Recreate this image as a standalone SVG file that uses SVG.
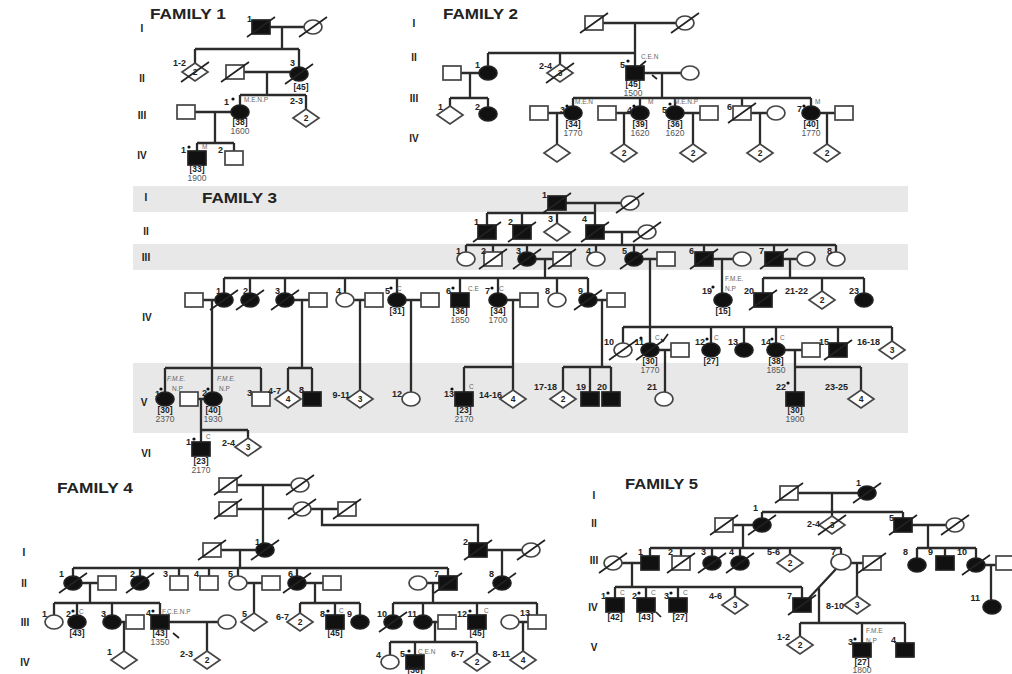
<svg xmlns="http://www.w3.org/2000/svg" width="1012" height="674" viewBox="0 0 1012 674">
<style>
.o{fill:#fff;stroke:#444;stroke-width:1.7}
.f{fill:#111;stroke:#222;stroke-width:1.7}
.ln{fill:none;stroke:#2b2b2b;stroke-width:2.3}
.sl{fill:none;stroke:#222;stroke-width:1.7}
.pd{fill:#111}
text{font-family:"Liberation Sans",Arial,sans-serif;fill:#222}
.t{font-size:9px;font-weight:bold}
.b{font-size:8.5px;font-weight:bold;text-anchor:middle}
.y{font-size:8.5px;fill:#555;text-anchor:middle}
.a{font-size:6.5px;fill:#666}
.n{font-size:8.5px;font-weight:bold;text-anchor:middle}
.r{font-size:10px;font-weight:bold;text-anchor:middle}
.h{font-size:14px;font-weight:bold}
.e{text-anchor:end}
.band{fill:#e8e8e8}
</style>
<defs>
<rect id="sq" x="-9" y="-7" width="18" height="14"/>
<ellipse id="ci" rx="9" ry="7"/>
<path id="di" d="M0-9L13 0L0 9L-13 0Z"/>
<path id="sl" d="M-14 10L14-10"/>
<circle id="pd" r="1.6"/>
</defs>
<rect width="1012" height="674" fill="#fff"/>
<g id="bands">
<rect class="band" x="133" y="186" width="775" height="26"/>
<rect class="band" x="133" y="244" width="775" height="26"/>
<rect class="band" x="133" y="363" width="775" height="70"/>
</g>
<g id="titles">
<text class="h" x="150" y="19" textLength="76" lengthAdjust="spacingAndGlyphs">FAMILY 1</text>
<text class="h" x="443" y="19" textLength="75" lengthAdjust="spacingAndGlyphs">FAMILY 2</text>
<text class="h" x="202" y="203" textLength="75" lengthAdjust="spacingAndGlyphs">FAMILY 3</text>
<text class="h" x="57" y="493" textLength="76" lengthAdjust="spacingAndGlyphs">FAMILY 4</text>
<text class="h" x="625" y="489" textLength="73" lengthAdjust="spacingAndGlyphs">FAMILY 5</text>
</g>
<g id="generations">
<text class="r" x="142" y="32">I</text><text class="r" x="142" y="82">II</text><text class="r" x="142" y="119">III</text><text class="r" x="142" y="159">IV</text>
<text class="r" x="414" y="27">I</text><text class="r" x="414" y="61">II</text><text class="r" x="414" y="102">III</text><text class="r" x="414" y="142">IV</text>
<text class="r" x="146" y="201">I</text><text class="r" x="146" y="235">II</text><text class="r" x="146" y="261">III</text><text class="r" x="147" y="321">IV</text><text class="r" x="144" y="406">V</text><text class="r" x="146" y="457">VI</text>
<text class="r" x="24" y="556">I</text><text class="r" x="24" y="587">II</text><text class="r" x="25" y="626">III</text><text class="r" x="25" y="666">IV</text>
<text class="r" x="594" y="499">I</text><text class="r" x="594" y="527">II</text><text class="r" x="594" y="564">III</text><text class="r" x="593" y="611">IV</text><text class="r" x="594" y="651">V</text>
</g>
<g id="connectors" class="ln">
<path d="M270 27H304M282 27V49M195 49H299M195 49V63M299 49V67M244 72H290M267 72V95M240 95H306M240 95V105M306 95V109M195 112H231M215 112V143M197 143H234M197 143V151M234 143V151"/>
<path d="M603 23H676M635 23V53M488 53H635M488 53V66M560 53V64M635 53V66M461 73H479M470 73V98M450 98H488M450 98V106M488 98V107M644 73H681M662 73V98M573 98H811M573 98V106M640 98V106M675 98V106M742 98V106M811 98V106M548 113H564M557 113V144M616 113H631M624 113V144M684 113H700M693 113V144M751 113H767M760 113V144M820 113H835M827 113V144"/>
<path d="M566 203H621M595 203V213M487 213H595M487 213V225M522 213V225M557 213V223M595 213V225M604 232H638M622 232V245M466 245H836M466 245V252M493 245V252M527 245V252M596 245V252M634 245V252M704 245V252M774 245V252M836 245V252"/>
<path d="M536 259H553M545 259V278M224 278H588M224 278V293M250 278V293M285 278V293M345 278V293M397 278V293M460 278V293M498 278V293M557 278V293M588 278V293M643 259H657M650 259V343M623 327H892M623 327V343M711 327V343M744 327V343M776 327V343M838 327V343M892 327V341M713 259H733M722 259V293M783 259H797M790 259V278M763 278H864M763 278V293M822 278V291M864 278V293"/>
<path d="M203 300H215M212 300V392M165 368H261M165 368V392M261 368V392M294 300H309M302 300V368M288 368H312M288 368V390M312 368V392M354 300H365M360 300V390M406 300H421M411 300V392M507 300H520M513 300V390M464 367H513M464 367V392M597 300H607M602 300V367M563 367H611M563 367V390M590 367V392M611 367V392M659 350H671M665 350V392M785 350H802M795 350V392M795 367H861M861 367V390M198 399H204M201 399V430H248M201 430V442M248 430V438"/>
<path d="M237 485H291M263 485V543M237 509H293M311 509H338M322 509V525H478V543M221 550H256M240 550V568M73 568H448M73 568V576M140 568V576M179 568V576M209 568V576M238 568V576M297 568V576M448 568V576M487 550H522M502 550V576M82 583H98M90 583V603M54 603H160M54 603V615M77 603V615M112 603V615M160 603V615M247 583H262M254 583V613M306 583H323M315 583V603M300 603H360M300 603V613M335 603V615M360 603V615M427 583H439M433 583V603M393 603H537M393 603V615M423 603V615M477 603V615M537 603V615M121 622H126M124 622V651M169 622H218M207 622V651M432 622H438M435 622V642M390 642H477M390 642V655M415 642V655M477 642V653M519 622H528M523 622V651"/>
<path d="M798 493H858M832 493V512M762 512H903M762 512V518M832 512V516M903 512V518M733 525H753M743 525V548M912 525H946M928 525V548M650 548H841M650 548V556M681 548V556M712 548V556M740 548V556M790 548V554M841 548V554M917 548H976M917 548V558M945 548V556M976 548V558M622 563H641M632 563V587M615 587H802M615 587V598M646 587V598M678 587V598M735 587V596M802 587V598M851 563H863M857 563V596M836 569L809 598M819 587V623M800 623H905M800 623V636M862 623V643M905 623V643M985 565H996M991 565V600"/>
</g>
<g id="family1">
<g id="f1-I-1"><use href="#sq" x="261" y="27" class="f"/><use href="#sl" x="261" y="27" class="sl"/><text class="t e" x="252" y="22">1</text></g>
<g id="f1-I-2"><use href="#ci" x="313" y="27" class="o"/><use href="#sl" x="313" y="27" class="sl"/></g>
<g id="f1-II-1-2"><use href="#di" x="195" y="72" class="o"/><use href="#sl" x="195" y="72" class="sl"/><text class="n" x="195" y="75">2</text><text class="t e" x="186" y="66">1-2</text></g>
<g id="f1-II-sp"><use href="#sq" x="235" y="72" class="o"/><use href="#sl" x="235" y="72" class="sl"/></g>
<g id="f1-II-3"><use href="#ci" x="299" y="74" class="f"/><use href="#sl" x="299" y="74" class="sl"/><text class="t" x="290" y="66">3</text><text class="b" x="301" y="90">[45]</text></g>
<g id="f1-III-sp"><use href="#sq" x="186" y="112" class="o"/></g>
<g id="f1-III-1"><use href="#ci" x="240" y="112" class="f"/><text class="t e" x="229" y="105">1</text><use href="#pd" x="233" y="99" class="pd"/><text class="a" x="244" y="102">M.E.N.P</text><text class="b" x="240" y="125">[38]</text><text class="y" x="240" y="134">1600</text></g>
<g id="f1-III-2-3"><use href="#di" x="306" y="118" class="o"/><text class="n" x="306" y="121">2</text><text class="t e" x="303" y="104">2-3</text></g>
<g id="f1-IV-1"><use href="#sq" x="197" y="158" class="f"/><text class="t e" x="186" y="153">1</text><use href="#pd" x="189" y="147" class="pd"/><text class="a" x="202" y="149">M</text><text class="b" x="197" y="172">[33]</text><text class="y" x="197" y="181">1900</text></g>
<g id="f1-IV-2"><use href="#sq" x="234" y="158" class="o"/><text class="t e" x="223" y="153">2</text></g>
</g>
<g id="family2">
<g id="f2-I-1"><use href="#sq" x="594" y="23" class="o"/><use href="#sl" x="594" y="23" class="sl"/></g>
<g id="f2-I-2"><use href="#ci" x="685" y="23" class="o"/><use href="#sl" x="685" y="23" class="sl"/></g>
<g id="f2-II-sp1"><use href="#sq" x="452" y="73" class="o"/></g>
<g id="f2-II-1"><use href="#ci" x="488" y="73" class="f"/><text class="t e" x="480" y="68">1</text></g>
<g id="f2-II-2-4"><use href="#di" x="560" y="73" class="o"/><use href="#sl" x="560" y="73" class="sl"/><text class="n" x="560" y="76">3</text><text class="t e" x="552" y="69">2-4</text></g>
<g id="f2-II-5"><use href="#sq" x="635" y="73" class="f"/><text class="t e" x="625" y="68">5</text><use href="#pd" x="628" y="61" class="pd"/><path class="sl" d="M640 66L646 61M652 75L657 79" stroke-width="1.2"/><text class="a" x="641" y="59">C.E.N</text><text class="b" x="633" y="87">[45]</text><text class="y" x="633" y="96">1500</text></g>
<g id="f2-II-sp5"><use href="#ci" x="690" y="73" class="o"/></g>
<g id="f2-III-1"><use href="#di" x="450" y="115" class="o"/><text class="t e" x="443" y="110">1</text></g>
<g id="f2-III-2"><use href="#ci" x="488" y="114" class="f"/><text class="t e" x="480" y="110">2</text></g>
<g id="f2-III-sp3"><use href="#sq" x="539" y="113" class="o"/></g>
<g id="f2-III-3"><use href="#ci" x="573" y="113" class="f"/><text class="t e" x="565" y="113">3</text><use href="#pd" x="567" y="106" class="pd"/><text class="a" x="575" y="104">M.E.N</text><text class="b" x="573" y="127">[34]</text><text class="y" x="573" y="136">1770</text></g>
<g id="f2-III-sp4"><use href="#sq" x="607" y="113" class="o"/></g>
<g id="f2-III-4"><use href="#ci" x="640" y="113" class="f"/><text class="t e" x="632" y="113">4</text><use href="#pd" x="634" y="106" class="pd"/><text class="a" x="648" y="104">M</text><text class="b" x="640" y="127">[39]</text><text class="y" x="640" y="136">1620</text></g>
<g id="f2-III-5"><use href="#ci" x="675" y="113" class="f"/><text class="t e" x="667" y="113">5</text><use href="#pd" x="670" y="104" class="pd"/><text class="a" x="674" y="104">M.E.N.P</text><text class="b" x="675" y="127">[36]</text><text class="y" x="675" y="136">1620</text></g>
<g id="f2-III-sp5"><use href="#sq" x="709" y="113" class="o"/></g>
<g id="f2-III-6"><use href="#sq" x="742" y="113" class="o"/><use href="#sl" x="742" y="113" class="sl"/><text class="t e" x="732" y="110">6</text></g>
<g id="f2-III-sp6"><use href="#ci" x="776" y="113" class="o"/></g>
<g id="f2-III-7"><use href="#ci" x="811" y="113" class="f"/><text class="t e" x="802" y="112">7</text><use href="#pd" x="804" y="106" class="pd"/><text class="a" x="815" y="104">M</text><text class="b" x="811" y="127">[40]</text><text class="y" x="811" y="136">1770</text></g>
<g id="f2-III-sp7"><use href="#sq" x="844" y="113" class="o"/></g>
<g id="f2-IV-1"><use href="#di" x="557" y="153" class="o"/></g>
<g id="f2-IV-2"><use href="#di" x="624" y="153" class="o"/><text class="n" x="624" y="156">2</text></g>
<g id="f2-IV-3"><use href="#di" x="693" y="153" class="o"/><text class="n" x="693" y="156">2</text></g>
<g id="f2-IV-4"><use href="#di" x="760" y="153" class="o"/><text class="n" x="760" y="156">2</text></g>
<g id="f2-IV-5"><use href="#di" x="827" y="153" class="o"/><text class="n" x="827" y="156">2</text></g>
</g>
<g id="family3">
<g id="f3-I-1"><use href="#sq" x="557" y="203" class="f"/><use href="#sl" x="557" y="203" class="sl"/><text class="t e" x="547" y="198">1</text></g>
<g id="f3-I-2"><use href="#ci" x="630" y="203" class="o"/><use href="#sl" x="630" y="203" class="sl"/></g>
<g id="f3-II-1"><use href="#sq" x="487" y="232" class="f"/><use href="#sl" x="487" y="232" class="sl"/><text class="t e" x="479" y="225">1</text></g>
<g id="f3-II-2"><use href="#sq" x="522" y="232" class="f"/><use href="#sl" x="522" y="232" class="sl"/><text class="t e" x="513" y="225">2</text></g>
<g id="f3-II-3"><use href="#di" x="557" y="232" class="o"/><text class="t e" x="553" y="222">3</text></g>
<g id="f3-II-4"><use href="#sq" x="595" y="232" class="f"/><use href="#sl" x="595" y="232" class="sl"/><text class="t e" x="587" y="222">4</text></g>
<g id="f3-II-sp4"><use href="#ci" x="647" y="232" class="o"/><use href="#sl" x="647" y="232" class="sl"/></g>
<g id="f3-III-1"><use href="#ci" x="466" y="259" class="o"/><text class="t e" x="461" y="254">1</text></g>
<g id="f3-III-2"><use href="#sq" x="493" y="259" class="o"/><use href="#sl" x="493" y="259" class="sl"/><text class="t e" x="486" y="254">2</text></g>
<g id="f3-III-3"><use href="#ci" x="527" y="259" class="f"/><use href="#sl" x="527" y="259" class="sl"/><text class="t e" x="521" y="254">3</text></g>
<g id="f3-III-sp3"><use href="#sq" x="562" y="259" class="o"/><use href="#sl" x="562" y="259" class="sl"/></g>
<g id="f3-III-4"><use href="#ci" x="596" y="259" class="o"/><text class="t e" x="591" y="254">4</text></g>
<g id="f3-III-5"><use href="#ci" x="634" y="259" class="f"/><use href="#sl" x="634" y="259" class="sl"/><text class="t e" x="627" y="254">5</text></g>
<g id="f3-III-sp5"><use href="#sq" x="666" y="259" class="o"/></g>
<g id="f3-III-6"><use href="#sq" x="704" y="259" class="f"/><use href="#sl" x="704" y="259" class="sl"/><text class="t e" x="694" y="254">6</text></g>
<g id="f3-III-sp6"><use href="#ci" x="742" y="259" class="o"/></g>
<g id="f3-III-7"><use href="#sq" x="774" y="259" class="f"/><use href="#sl" x="774" y="259" class="sl"/><text class="t e" x="764" y="254">7</text></g>
<g id="f3-III-sp7"><use href="#ci" x="806" y="259" class="o"/></g>
<g id="f3-III-8"><use href="#ci" x="836" y="259" class="o"/><text class="t e" x="832" y="254">8</text></g>
<g id="f3-IV-sp1"><use href="#sq" x="194" y="300" class="o"/></g>
<g id="f3-IV-1"><use href="#ci" x="224" y="300" class="f"/><use href="#sl" x="224" y="300" class="sl"/><text class="t e" x="221" y="294">1</text></g>
<g id="f3-IV-2"><use href="#ci" x="250" y="300" class="f"/><use href="#sl" x="250" y="300" class="sl"/><text class="t e" x="248" y="294">2</text></g>
<g id="f3-IV-3"><use href="#ci" x="285" y="300" class="f"/><use href="#sl" x="285" y="300" class="sl"/><text class="t e" x="280" y="294">3</text></g>
<g id="f3-IV-sp3"><use href="#sq" x="318" y="300" class="o"/></g>
<g id="f3-IV-4"><use href="#ci" x="345" y="300" class="o"/><text class="t e" x="341" y="294">4</text></g>
<g id="f3-IV-sp4"><use href="#sq" x="374" y="300" class="o"/></g>
<g id="f3-IV-5"><use href="#ci" x="397" y="300" class="f"/><text class="t e" x="390" y="294">5</text><use href="#pd" x="391" y="288" class="pd"/><text class="a" x="397" y="291">C</text><text class="b" x="397" y="314">[31]</text></g>
<g id="f3-IV-sp5"><use href="#sq" x="430" y="300" class="o"/></g>
<g id="f3-IV-6"><use href="#sq" x="460" y="300" class="f"/><text class="t e" x="451" y="294">6</text><use href="#pd" x="453" y="288" class="pd"/><text class="a" x="468" y="291">C.E</text><text class="b" x="460" y="314">[36]</text><text class="y" x="460" y="323">1850</text></g>
<g id="f3-IV-7"><use href="#ci" x="498" y="300" class="f"/><text class="t e" x="490" y="294">7</text><use href="#pd" x="492" y="288" class="pd"/><text class="a" x="499" y="291">C</text><text class="b" x="498" y="314">[34]</text><text class="y" x="498" y="323">1700</text></g>
<g id="f3-IV-sp7"><use href="#sq" x="529" y="300" class="o"/></g>
<g id="f3-IV-8"><use href="#ci" x="557" y="300" class="o"/><text class="t e" x="550" y="294">8</text></g>
<g id="f3-IV-9"><use href="#ci" x="588" y="300" class="f"/><use href="#sl" x="588" y="300" class="sl"/><text class="t e" x="583" y="294">9</text></g>
<g id="f3-IV-sp9"><use href="#sq" x="616" y="300" class="o"/></g>
<g id="f3-IV-19"><use href="#ci" x="723" y="300" class="f"/><text class="t e" x="712" y="294">19</text><use href="#pd" x="713" y="287" class="pd"/><text class="a" x="725" y="281">F.M.E.</text><text class="a" x="725" y="291">N.P</text><text class="b" x="723" y="314">[15]</text></g>
<g id="f3-IV-20"><use href="#sq" x="763" y="300" class="f"/><use href="#sl" x="763" y="300" class="sl"/><text class="t e" x="754" y="294">20</text></g>
<g id="f3-IV-21-22"><use href="#di" x="822" y="300" class="o"/><text class="n" x="822" y="303">2</text><text class="t e" x="808" y="294">21-22</text></g>
<g id="f3-IV-23"><use href="#ci" x="864" y="300" class="f"/><text class="t e" x="859" y="294">23</text></g>
<g id="f3-IV-10"><use href="#ci" x="623" y="350" class="o"/><use href="#sl" x="623" y="350" class="sl"/><text class="t e" x="614" y="345">10</text></g>
<g id="f3-IV-11"><use href="#ci" x="650" y="350" class="f"/><use href="#sl" x="650" y="350" class="sl"/><text class="t e" x="644" y="345">11</text><use href="#pd" x="641" y="338" class="pd"/><text class="a" x="655" y="340">C</text><path class="sl" d="M661 339L663 341L668 334" stroke-width="1.1"/><text class="b" x="650" y="364">[30]</text><text class="y" x="650" y="373">1770</text></g>
<g id="f3-IV-sp11"><use href="#sq" x="680" y="350" class="o"/></g>
<g id="f3-IV-12"><use href="#ci" x="711" y="350" class="f"/><text class="t e" x="705" y="345">12</text><use href="#pd" x="707" y="339" class="pd"/><text class="a" x="714" y="340">C</text><text class="b" x="711" y="364">[27]</text></g>
<g id="f3-IV-13"><use href="#ci" x="744" y="350" class="f"/><text class="t e" x="738" y="345">13</text></g>
<g id="f3-IV-14"><use href="#ci" x="776" y="350" class="f"/><text class="t e" x="771" y="345">14</text><use href="#pd" x="772" y="339" class="pd"/><text class="a" x="780" y="340">C</text><text class="b" x="776" y="364">[38]</text><text class="y" x="776" y="373">1850</text></g>
<g id="f3-IV-sp14"><use href="#sq" x="811" y="350" class="o"/></g>
<g id="f3-IV-15"><use href="#sq" x="838" y="350" class="f"/><use href="#sl" x="838" y="350" class="sl"/><text class="t e" x="829" y="345">15</text></g>
<g id="f3-IV-16-18"><use href="#di" x="892" y="350" class="o"/><text class="n" x="892" y="353">3</text><text class="t e" x="880" y="345">16-18</text></g>
<g id="f3-V-1"><use href="#ci" x="165" y="399" class="f"/><text class="t e" x="160" y="397">1</text><use href="#pd" x="161" y="389" class="pd"/><text class="a" x="167" y="381" font-style="italic">F.M.E.</text><text class="a" x="172" y="391">N.P</text><text class="b" x="165" y="413">[30]</text><text class="y" x="165" y="422">2370</text></g>
<g id="f3-V-sp2"><use href="#sq" x="189" y="399" class="o"/></g>
<g id="f3-V-2"><use href="#ci" x="213" y="399" class="f"/><text class="t e" x="207" y="396">2</text><use href="#pd" x="208" y="389" class="pd"/><text class="a" x="217" y="381" font-style="italic">F.M.E.</text><text class="a" x="219" y="391">N.P</text><text class="b" x="213" y="413">[40]</text><text class="y" x="213" y="422">1930</text></g>
<g id="f3-V-3"><use href="#sq" x="261" y="399" class="o"/><text class="t e" x="252" y="396">3</text></g>
<g id="f3-V-4-7"><use href="#di" x="288" y="399" class="o"/><text class="n" x="288" y="402">4</text><text class="t" x="268" y="394">4-7</text></g>
<g id="f3-V-8"><use href="#sq" x="312" y="399" class="f"/><text class="t e" x="304" y="393">8</text></g>
<g id="f3-V-9-11"><use href="#di" x="360" y="399" class="o"/><text class="n" x="360" y="402">3</text><text class="t e" x="350" y="398">9-11</text></g>
<g id="f3-V-12"><use href="#ci" x="411" y="399" class="o"/><text class="t e" x="402" y="397">12</text></g>
<g id="f3-V-13"><use href="#sq" x="464" y="399" class="f"/><text class="t e" x="454" y="397">13</text><use href="#pd" x="452" y="389" class="pd"/><text class="a" x="469" y="389">C</text><text class="b" x="464" y="413">[23]</text><text class="y" x="464" y="422">2170</text></g>
<g id="f3-V-14-16"><use href="#di" x="513" y="399" class="o"/><text class="n" x="513" y="402">4</text><text class="t e" x="502" y="398">14-16</text></g>
<g id="f3-V-17-18"><use href="#di" x="563" y="399" class="o"/><text class="n" x="563" y="402">2</text><text class="t e" x="557" y="390">17-18</text></g>
<g id="f3-V-19"><use href="#sq" x="590" y="399" class="f"/><text class="t e" x="586" y="390">19</text></g>
<g id="f3-V-20"><use href="#sq" x="611" y="399" class="f"/><text class="t e" x="607" y="390">20</text></g>
<g id="f3-V-21"><use href="#ci" x="664" y="399" class="o"/><text class="t e" x="657" y="390">21</text></g>
<g id="f3-V-22"><use href="#sq" x="795" y="399" class="f"/><text class="t e" x="786" y="390">22</text><use href="#pd" x="788" y="383" class="pd"/><text class="b" x="795" y="413">[30]</text><text class="y" x="795" y="422">1900</text></g>
<g id="f3-V-23-25"><use href="#di" x="861" y="399" class="o"/><text class="n" x="861" y="402">4</text><text class="t e" x="848" y="390">23-25</text></g>
<g id="f3-VI-1"><use href="#sq" x="201" y="449" class="f"/><text class="t e" x="191" y="445">1</text><use href="#pd" x="194" y="439" class="pd"/><text class="a" x="206" y="439">C</text><text class="b" x="201" y="464">[23]</text><text class="y" x="201" y="473">2170</text></g>
<g id="f3-VI-2-4"><use href="#di" x="248" y="447" class="o"/><text class="n" x="248" y="450">3</text><text class="t e" x="235" y="446">2-4</text></g>
</g>
<g id="family4">
<g id="f4-0-1"><use href="#sq" x="228" y="485" class="o"/><use href="#sl" x="228" y="485" class="sl"/></g>
<g id="f4-0-2"><use href="#ci" x="300" y="485" class="o"/><use href="#sl" x="300" y="485" class="sl"/></g>
<g id="f4-0-3"><use href="#sq" x="228" y="509" class="o"/><use href="#sl" x="228" y="509" class="sl"/></g>
<g id="f4-0-4"><use href="#ci" x="302" y="509" class="o"/><use href="#sl" x="302" y="509" class="sl"/></g>
<g id="f4-0-5"><use href="#sq" x="347" y="509" class="o"/><use href="#sl" x="347" y="509" class="sl"/></g>
<g id="f4-I-sp1"><use href="#sq" x="212" y="550" class="o"/><use href="#sl" x="212" y="550" class="sl"/></g>
<g id="f4-I-1"><use href="#ci" x="265" y="550" class="f"/><use href="#sl" x="265" y="550" class="sl"/><text class="t e" x="260" y="545">1</text></g>
<g id="f4-I-2"><use href="#sq" x="478" y="550" class="f"/><use href="#sl" x="478" y="550" class="sl"/><text class="t e" x="468" y="545">2</text></g>
<g id="f4-I-sp2"><use href="#ci" x="531" y="550" class="o"/><use href="#sl" x="531" y="550" class="sl"/></g>
<g id="f4-II-1"><use href="#ci" x="73" y="583" class="f"/><use href="#sl" x="73" y="583" class="sl"/><text class="t e" x="64" y="577">1</text></g>
<g id="f4-II-sp1"><use href="#sq" x="107" y="583" class="o"/></g>
<g id="f4-II-2"><use href="#ci" x="140" y="583" class="f"/><use href="#sl" x="140" y="583" class="sl"/><text class="t e" x="135" y="577">2</text></g>
<g id="f4-II-3"><use href="#sq" x="179" y="583" class="o"/><text class="t e" x="168" y="577">3</text></g>
<g id="f4-II-4"><use href="#sq" x="209" y="583" class="o"/><text class="t e" x="199" y="577">4</text></g>
<g id="f4-II-5"><use href="#ci" x="238" y="583" class="o"/><text class="t e" x="233" y="577">5</text></g>
<g id="f4-II-sp5"><use href="#sq" x="271" y="583" class="o"/></g>
<g id="f4-II-6"><use href="#ci" x="297" y="583" class="f"/><use href="#sl" x="297" y="583" class="sl"/><text class="t e" x="293" y="577">6</text></g>
<g id="f4-II-sp6"><use href="#sq" x="332" y="583" class="o"/></g>
<g id="f4-II-sp7"><use href="#ci" x="418" y="583" class="o"/></g>
<g id="f4-II-7"><use href="#sq" x="448" y="583" class="f"/><use href="#sl" x="448" y="583" class="sl"/><text class="t e" x="439" y="577">7</text></g>
<g id="f4-II-8"><use href="#ci" x="502" y="583" class="f"/><use href="#sl" x="502" y="583" class="sl"/><text class="t e" x="494" y="577">8</text></g>
<g id="f4-III-1"><use href="#ci" x="54" y="622" class="o"/><text class="t e" x="47" y="617">1</text></g>
<g id="f4-III-2"><use href="#ci" x="77" y="622" class="f"/><text class="t e" x="71" y="617">2</text><use href="#pd" x="73" y="611" class="pd"/><text class="a" x="79" y="614">C</text><text class="b" x="77" y="636">[43]</text></g>
<g id="f4-III-3"><use href="#ci" x="112" y="622" class="f"/><text class="t e" x="106" y="617">3</text></g>
<g id="f4-III-sp3"><use href="#sq" x="135" y="622" class="o"/></g>
<g id="f4-III-4"><use href="#sq" x="160" y="622" class="f"/><text class="t e" x="151" y="616">4</text><use href="#pd" x="153" y="611" class="pd"/><text class="a" x="162" y="614">F.C.E.N.P</text><path class="sl" d="M173 633L179 638" stroke-width="1.2"/><text class="b" x="160" y="636">[43]</text><text class="y" x="160" y="645">1350</text></g>
<g id="f4-III-sp4"><use href="#ci" x="227" y="622" class="o"/></g>
<g id="f4-III-5"><use href="#di" x="254" y="622" class="o"/><text class="t e" x="247" y="617">5</text></g>
<g id="f4-III-6-7"><use href="#di" x="300" y="622" class="o"/><text class="n" x="300" y="625">2</text><text class="t e" x="289" y="620">6-7</text></g>
<g id="f4-III-8"><use href="#sq" x="335" y="622" class="f"/><text class="t e" x="325" y="617">8</text><use href="#pd" x="328" y="611" class="pd"/><text class="a" x="339" y="613">C</text><text class="b" x="335" y="636">[45]</text></g>
<g id="f4-III-9"><use href="#ci" x="360" y="622" class="f"/><text class="t e" x="352" y="617">9</text></g>
<g id="f4-III-10"><use href="#ci" x="393" y="622" class="f"/><use href="#sl" x="393" y="622" class="sl"/><text class="t e" x="387" y="617">10</text></g>
<g id="f4-III-11"><use href="#ci" x="423" y="622" class="f"/><text class="t e" x="417" y="617">11</text></g>
<g id="f4-III-sp11"><use href="#sq" x="447" y="622" class="o"/></g>
<g id="f4-III-12"><use href="#sq" x="477" y="622" class="f"/><text class="t e" x="467" y="617">12</text><use href="#pd" x="470" y="611" class="pd"/><text class="a" x="484" y="613">C</text><text class="b" x="477" y="636">[45]</text></g>
<g id="f4-III-sp13"><use href="#ci" x="510" y="622" class="o"/></g>
<g id="f4-III-13"><use href="#sq" x="537" y="622" class="o"/><text class="t e" x="530" y="616">13</text></g>
<g id="f4-IV-1"><use href="#di" x="124" y="660" class="o"/><text class="t e" x="112" y="655">1</text></g>
<g id="f4-IV-2-3"><use href="#di" x="207" y="660" class="o"/><text class="n" x="207" y="663">2</text><text class="t e" x="193" y="657">2-3</text></g>
<g id="f4-IV-4"><use href="#ci" x="390" y="662" class="o"/><text class="t e" x="381" y="658">4</text></g>
<g id="f4-IV-5"><use href="#sq" x="415" y="662" class="f"/><text class="t e" x="405" y="657">5</text><use href="#pd" x="409" y="651" class="pd"/><text class="a" x="418" y="654">C.E.N</text><text class="b" x="415" y="673" font-size="7.5">[36]</text></g>
<g id="f4-IV-6-7"><use href="#di" x="477" y="662" class="o"/><text class="n" x="477" y="665">2</text><text class="t e" x="464" y="657">6-7</text></g>
<g id="f4-IV-8-11"><use href="#di" x="523" y="660" class="o"/><text class="n" x="523" y="663">4</text><text class="t e" x="510" y="657">8-11</text></g>
</g>
<g id="family5">
<g id="f5-I-1"><use href="#sq" x="789" y="493" class="o"/><use href="#sl" x="789" y="493" class="sl"/></g>
<g id="f5-I-2"><use href="#ci" x="867" y="493" class="f"/><use href="#sl" x="867" y="493" class="sl"/><text class="t e" x="861" y="486">1</text></g>
<g id="f5-II-sp1"><use href="#sq" x="724" y="525" class="o"/><use href="#sl" x="724" y="525" class="sl"/></g>
<g id="f5-II-1"><use href="#ci" x="762" y="525" class="f"/><use href="#sl" x="762" y="525" class="sl"/><text class="t e" x="758" y="511">1</text></g>
<g id="f5-II-2-4"><use href="#di" x="832" y="525" class="o"/><use href="#sl" x="832" y="525" class="sl"/><text class="n" x="832" y="528">3</text><text class="t e" x="820" y="527">2-4</text></g>
<g id="f5-II-5"><use href="#sq" x="903" y="525" class="f"/><use href="#sl" x="903" y="525" class="sl"/><text class="t e" x="894" y="521">5</text></g>
<g id="f5-II-sp5"><use href="#ci" x="955" y="525" class="o"/><use href="#sl" x="955" y="525" class="sl"/></g>
<g id="f5-III-sp1"><use href="#ci" x="613" y="563" class="o"/><use href="#sl" x="613" y="563" class="sl"/></g>
<g id="f5-III-1"><use href="#sq" x="650" y="563" class="f"/><text class="t e" x="643" y="555">1</text></g>
<g id="f5-III-2"><use href="#sq" x="681" y="563" class="o"/><use href="#sl" x="681" y="563" class="sl"/><text class="t e" x="673" y="555" fill="#777">2</text></g>
<g id="f5-III-3"><use href="#ci" x="712" y="563" class="f"/><use href="#sl" x="712" y="563" class="sl"/><text class="t e" x="706" y="555">3</text></g>
<g id="f5-III-4"><use href="#ci" x="740" y="563" class="f"/><use href="#sl" x="740" y="563" class="sl"/><text class="t e" x="734" y="555">4</text></g>
<g id="f5-III-5-6"><use href="#di" x="790" y="563" class="o"/><text class="n" x="790" y="566">2</text><text class="t e" x="780" y="555">5-6</text></g>
<g id="f5-III-7"><ellipse cx="841" cy="562" rx="10" ry="8" class="o"/><text class="t e" x="836" y="555">7</text></g>
<g id="f5-III-sp7"><use href="#sq" x="872" y="563" class="o"/><use href="#sl" x="872" y="563" class="sl"/></g>
<g id="f5-III-8"><use href="#ci" x="917" y="565" class="f"/><text class="t e" x="908" y="555">8</text></g>
<g id="f5-III-9"><use href="#sq" x="945" y="563" class="f"/><text class="t e" x="933" y="555">9</text></g>
<g id="f5-III-10"><use href="#ci" x="976" y="565" class="f"/><use href="#sl" x="976" y="565" class="sl"/><text class="t e" x="967" y="555">10</text></g>
<g id="f5-III-sp10"><use href="#sq" x="1005" y="563" class="o"/></g>
<g id="f5-IV-1"><use href="#sq" x="615" y="605" class="f"/><text class="t e" x="606" y="599">1</text><use href="#pd" x="608" y="593" class="pd"/><text class="a" x="620" y="595">C</text><text class="b" x="615" y="620">[42]</text></g>
<g id="f5-IV-2"><use href="#sq" x="646" y="605" class="f"/><text class="t e" x="637" y="599">2</text><use href="#pd" x="639" y="593" class="pd"/><text class="a" x="651" y="595">C</text><path class="sl" d="M656 612L661 617" stroke-width="1.2"/><text class="b" x="646" y="620">[43]</text></g>
<g id="f5-IV-3"><use href="#sq" x="678" y="605" class="f"/><text class="t e" x="669" y="599">3</text><use href="#pd" x="671" y="593" class="pd"/><text class="a" x="683" y="595">C</text><text class="b" x="680" y="620">[27]</text></g>
<g id="f5-IV-4-6"><use href="#di" x="735" y="605" class="o"/><text class="n" x="735" y="608">3</text><text class="t e" x="722" y="599">4-6</text></g>
<g id="f5-IV-7"><use href="#sq" x="802" y="605" class="f"/><use href="#sl" x="802" y="605" class="sl"/><text class="t e" x="792" y="599">7</text></g>
<g id="f5-IV-8-10"><use href="#di" x="857" y="605" class="o"/><text class="n" x="857" y="608">3</text><text class="t e" x="844" y="609">8-10</text></g>
<g id="f5-IV-11"><use href="#ci" x="992" y="607" class="f"/><text class="t e" x="980" y="601">11</text></g>
<g id="f5-V-1-2"><use href="#di" x="800" y="645" class="o"/><text class="n" x="800" y="648">2</text><text class="t e" x="790" y="640">1-2</text></g>
<g id="f5-V-3"><use href="#sq" x="862" y="650" class="f"/><text class="t e" x="853" y="645">3</text><use href="#pd" x="855" y="639" class="pd"/><text class="a" x="866" y="633">F.M.E</text><text class="a" x="866" y="643">N.P</text><text class="b" x="862" y="665">[27]</text><text class="y" x="862" y="673" font-size="8">1800</text></g>
<g id="f5-V-4"><use href="#sq" x="905" y="650" class="f"/><text class="t e" x="896" y="643">4</text></g>
</g>
</svg>
